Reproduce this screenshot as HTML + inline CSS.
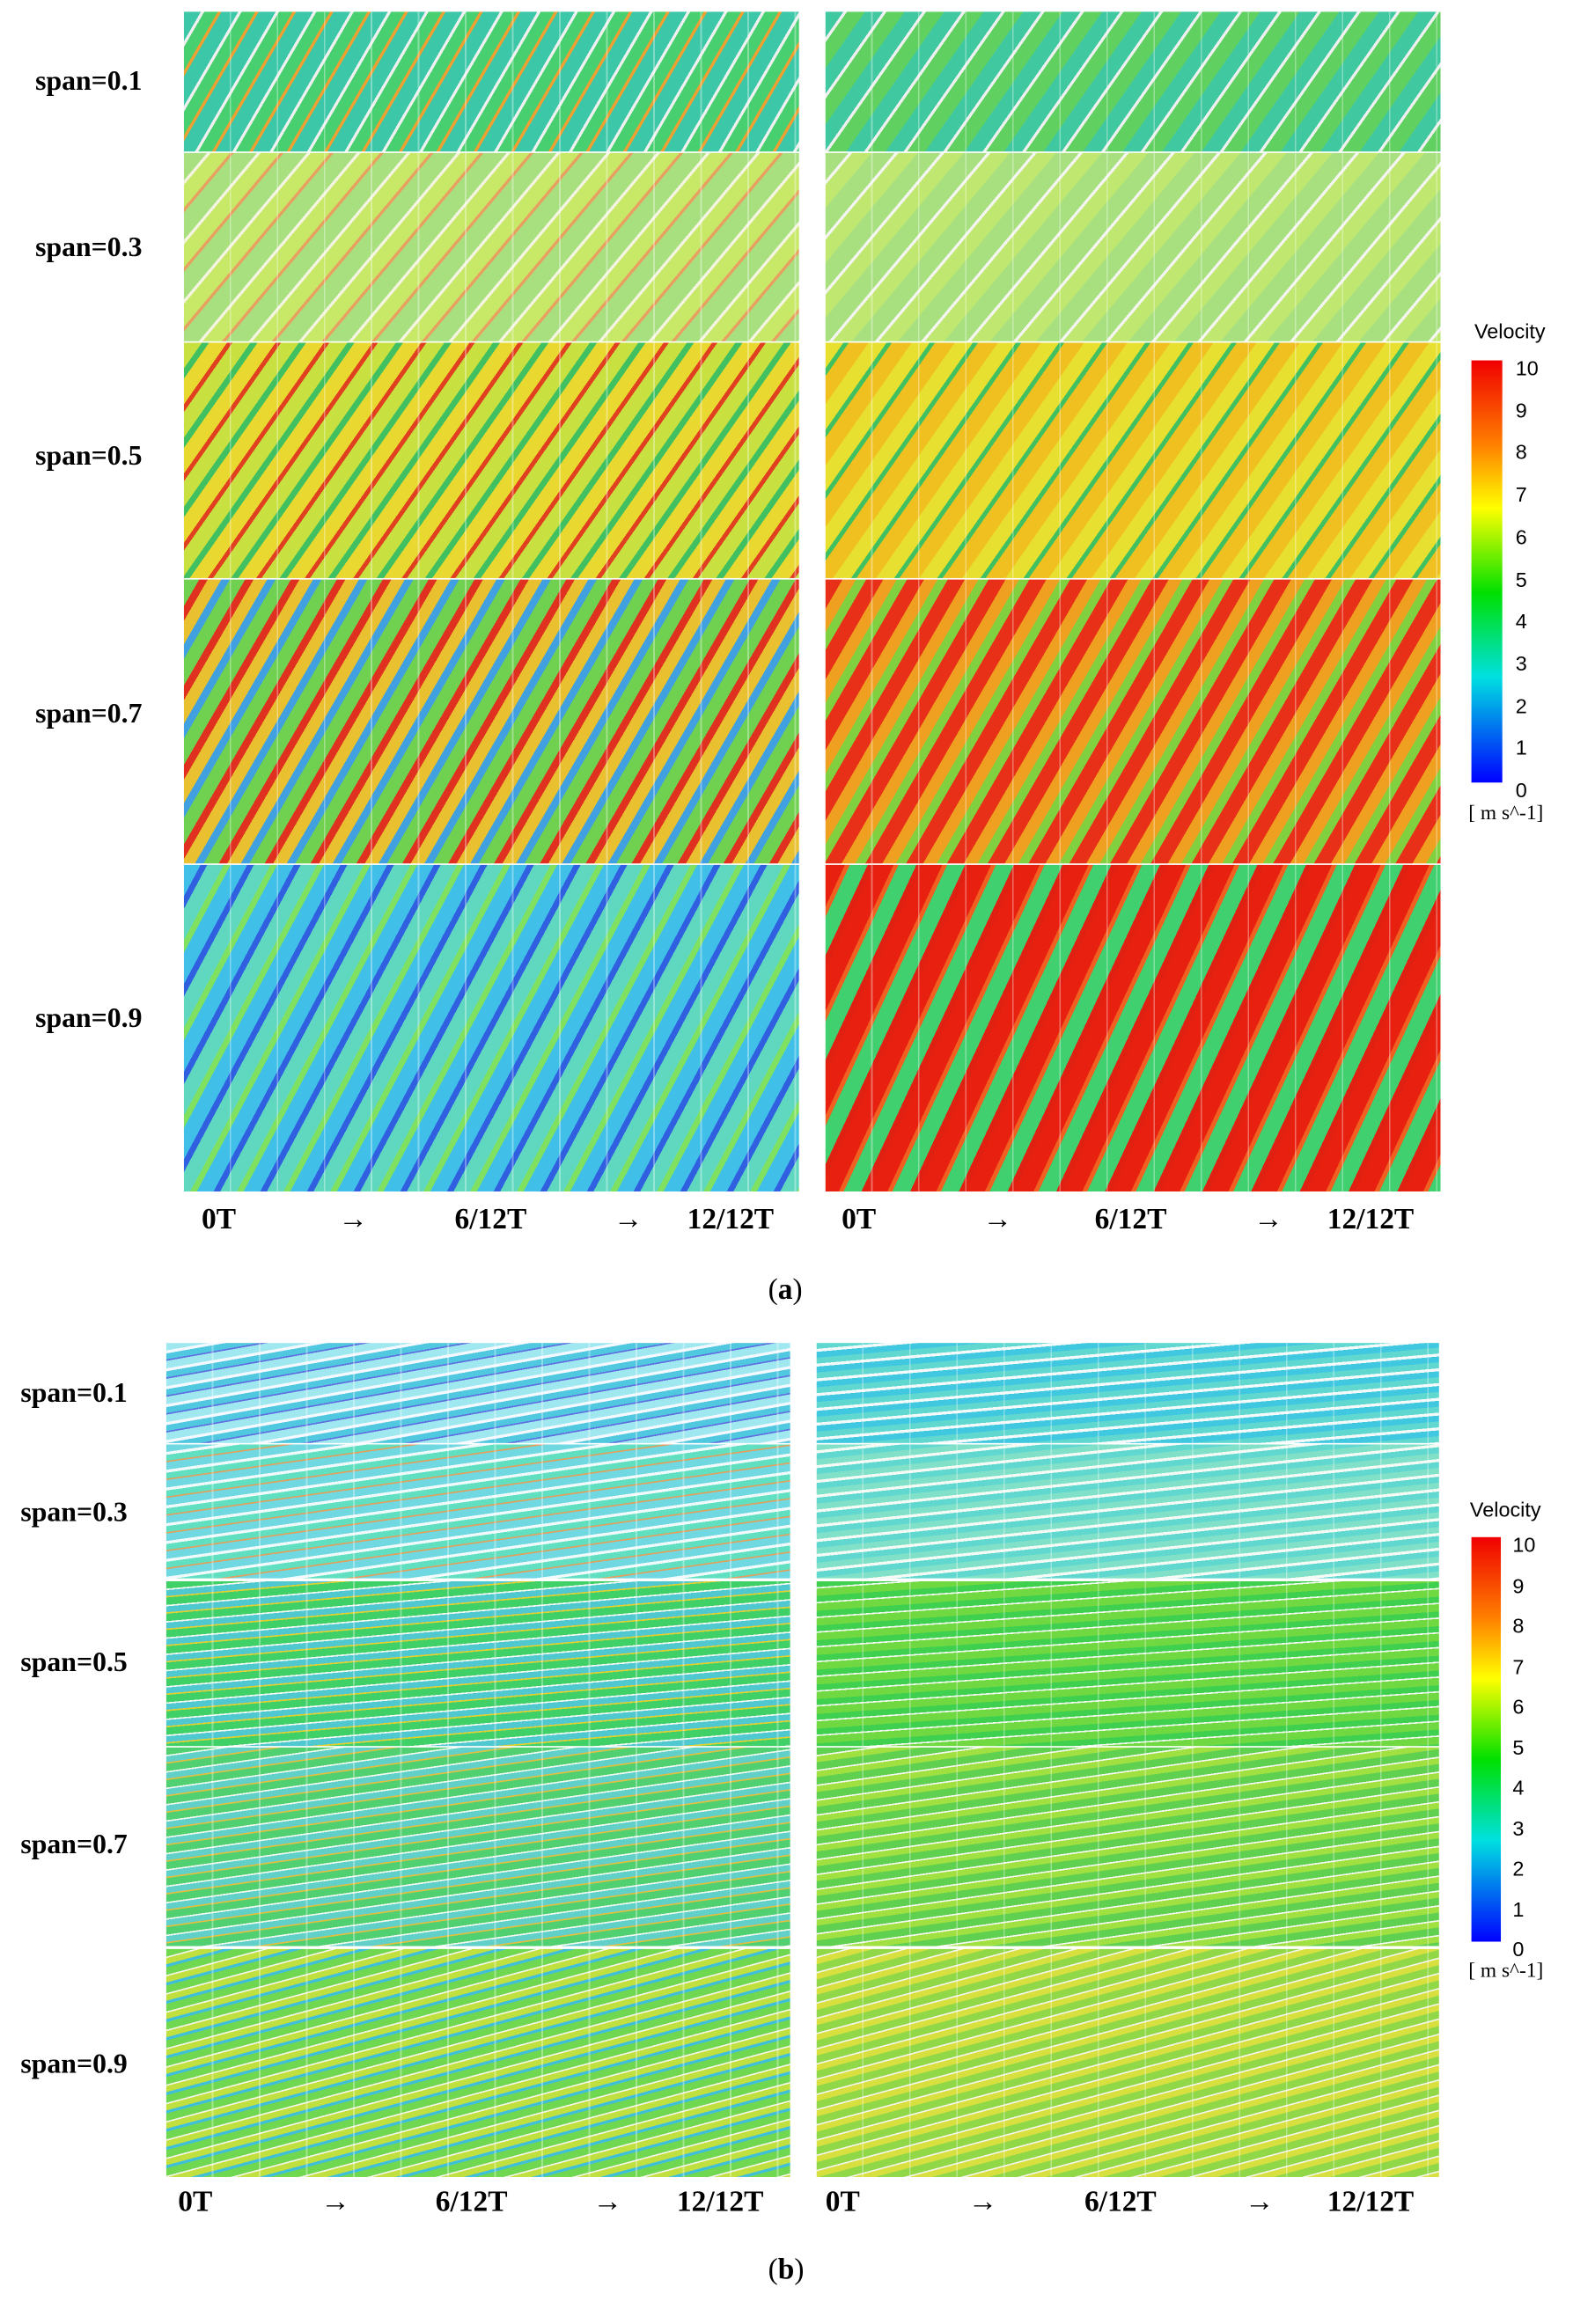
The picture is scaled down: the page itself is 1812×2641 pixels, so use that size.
<!DOCTYPE html>
<html><head><meta charset="utf-8"><style>
html,body{margin:0;padding:0;background:#fff;width:1812px;height:2640px;overflow:hidden}
#w{position:absolute;left:0;top:0;width:1084px;height:1580px;transform:scale(1.6716);transform-origin:0 0;font-family:"Liberation Serif",serif}
.p{position:absolute;overflow:hidden}
.p::after{content:"";position:absolute;inset:0;background:repeating-linear-gradient(90deg,transparent 0,transparent 31px,rgba(255,255,255,.35) 31px,rgba(255,255,255,.35) 32px)}
.lb{position:absolute;font-weight:bold;font-size:19px;white-space:nowrap}
.t{position:absolute;font-weight:bold;font-size:20px;white-space:nowrap}
.cb{position:absolute;font-family:"Liberation Sans",sans-serif;font-size:14px}
</style></head><body><div id="w">
<!-- panel a left -->
<div class="p" style="left:125px;top:8px;width:418px;height:95px;background:repeating-linear-gradient(120deg,#3cc8a8 0 10px,#f0f0f0 10px 12px,#48d070 12px 20px,#f0a030 20px 22px)"></div>
<div class="p" style="left:125px;top:104px;width:418px;height:128px;background:repeating-linear-gradient(130deg,#a8e080 0 12px,#f4f4e0 12px 14px,#c8e868 14px 24px,#e8a060 24px 26px)"></div>
<div class="p" style="left:125px;top:233px;width:418px;height:160px;background:repeating-linear-gradient(125deg,#c8e040 0 10px,#40c060 10px 14px,#e8d830 14px 24px,#e04020 24px 27px)"></div>
<div class="p" style="left:125px;top:394px;width:418px;height:193px;background:repeating-linear-gradient(120deg,#70d050 0 9px,#e03020 9px 14px,#e8c030 14px 22px,#40a0e0 22px 27px)"></div>
<div class="p" style="left:125px;top:588px;width:418px;height:222px;background:repeating-linear-gradient(118deg,#40c0e8 0 10px,#3060e0 10px 14px,#60d8c0 14px 24px,#80e060 24px 28px)"></div>
<!-- panel a right -->
<div class="p" style="left:561px;top:8px;width:418px;height:95px;background:repeating-linear-gradient(125deg,#40c8a0 0 10px,#f0f0f0 10px 12px,#60d060 12px 22px)"></div>
<div class="p" style="left:561px;top:104px;width:418px;height:128px;background:repeating-linear-gradient(130deg,#a8e080 0 12px,#f4f4f0 12px 14px,#c0e870 14px 24px)"></div>
<div class="p" style="left:561px;top:233px;width:418px;height:160px;background:repeating-linear-gradient(125deg,#e8e030 0 10px,#40c060 10px 13px,#f0c020 13px 24px)"></div>
<div class="p" style="left:561px;top:394px;width:418px;height:193px;background:repeating-linear-gradient(120deg,#e83018 0 10px,#f0a020 10px 18px,#80d040 18px 24px)"></div>
<div class="p" style="left:561px;top:588px;width:418px;height:222px;background:repeating-linear-gradient(115deg,#e82010 0 12px,#f06020 12px 15px,#40d070 15px 26px,#e02010 26px 30px)"></div>
<div class="lb" style="left:24px;top:45px">span=0.1</div>
<div class="lb" style="left:24px;top:158px">span=0.3</div>
<div class="lb" style="left:24px;top:300px">span=0.5</div>
<div class="lb" style="left:24px;top:475px">span=0.7</div>
<div class="lb" style="left:24px;top:682px">span=0.9</div>
<div class="t" style="left:137px;top:818px">0T</div><div class="t" style="left:230px;top:818px">→</div><div class="t" style="left:309px;top:818px">6/12T</div><div class="t" style="left:417px;top:818px">→</div><div class="t" style="left:467px;top:818px">12/12T</div>
<div class="t" style="left:572px;top:818px">0T</div><div class="t" style="left:668px;top:818px">→</div><div class="t" style="left:744px;top:818px">6/12T</div><div class="t" style="left:852px;top:818px">→</div><div class="t" style="left:902px;top:818px">12/12T</div>
<div class="cb" style="left:1002px;top:217px">Velocity</div>
<div style="position:absolute;left:1000px;top:245px;width:21px;height:287px;background:linear-gradient(180deg,#f00000,#ff8000 20%,#ffff00 35%,#00e000 55%,#00e0e0 75%,#0000ff)"></div>
<div class="cb" style="left:1030px;top:236px;line-height:28.7px">10<br>9<br>8<br>7<br>6<br>5<br>4<br>3<br>2<br>1<br>0</div>
<div class="cb" style="left:998px;top:546px;font-family:'Liberation Serif',serif">[ m s^-1]</div>
<div class="t" style="left:522px;top:866px;font-weight:normal">(<b>a</b>)</div>
<!-- panel b left -->
<div class="p" style="left:113px;top:913px;width:424px;height:68px;background:repeating-linear-gradient(170deg,#a0e8f0 0 5px,#f4f8ff 5px 7px,#50c8e0 7px 11px,#6070e0 11px 12px)"></div>
<div class="p" style="left:113px;top:982px;width:424px;height:91px;background:repeating-linear-gradient(172deg,#70d8e0 0 5px,#f0fafa 5px 7px,#60e0c0 7px 11px,#e0a060 11px 12px)"></div>
<div class="p" style="left:113px;top:1075px;width:424px;height:112px;background:repeating-linear-gradient(175deg,#40d068 0 5px,#f4f8f4 5px 6px,#50c8d0 6px 10px,#e0d030 10px 11px)"></div>
<div class="p" style="left:113px;top:1188px;width:424px;height:135px;background:repeating-linear-gradient(172deg,#50d070 0 5px,#f0f8f0 5px 6px,#60d0c8 6px 10px,#e0c040 10px 11px)"></div>
<div class="p" style="left:113px;top:1325px;width:424px;height:155px;background:repeating-linear-gradient(165deg,#70d850 0 5px,#f4f4e8 5px 6px,#c0e040 6px 10px,#40c0d8 10px 12px)"></div>
<!-- panel b right -->
<div class="p" style="left:555px;top:913px;width:423px;height:68px;background:repeating-linear-gradient(175deg,#60d8d0 0 4px,#f4fafa 4px 6px,#40c8e0 6px 10px)"></div>
<div class="p" style="left:555px;top:982px;width:423px;height:91px;background:repeating-linear-gradient(174deg,#80e0c8 0 4px,#f4faf4 4px 6px,#60d8d0 6px 10px)"></div>
<div class="p" style="left:555px;top:1075px;width:423px;height:112px;background:repeating-linear-gradient(176deg,#40d050 0 4px,#f0f8f0 4px 5px,#70d840 5px 10px)"></div>
<div class="p" style="left:555px;top:1188px;width:423px;height:135px;background:repeating-linear-gradient(172deg,#60d050 0 5px,#f4f8f0 5px 6px,#a0e040 6px 10px)"></div>
<div class="p" style="left:555px;top:1325px;width:423px;height:155px;background:repeating-linear-gradient(165deg,#90d848 0 5px,#f4f4e8 5px 6px,#d8e040 6px 10px)"></div>
<div class="lb" style="left:14px;top:937px">span=0.1</div>
<div class="lb" style="left:14px;top:1018px">span=0.3</div>
<div class="lb" style="left:14px;top:1120px">span=0.5</div>
<div class="lb" style="left:14px;top:1244px">span=0.7</div>
<div class="lb" style="left:14px;top:1393px">span=0.9</div>
<div class="t" style="left:121px;top:1486px">0T</div><div class="t" style="left:218px;top:1486px">→</div><div class="t" style="left:296px;top:1486px">6/12T</div><div class="t" style="left:403px;top:1486px">→</div><div class="t" style="left:460px;top:1486px">12/12T</div>
<div class="t" style="left:561px;top:1486px">0T</div><div class="t" style="left:658px;top:1486px">→</div><div class="t" style="left:737px;top:1486px">6/12T</div><div class="t" style="left:846px;top:1486px">→</div><div class="t" style="left:902px;top:1486px">12/12T</div>
<div class="cb" style="left:999px;top:1018px">Velocity</div>
<div style="position:absolute;left:1000px;top:1045px;width:20px;height:275px;background:linear-gradient(180deg,#f00000,#ff8000 20%,#ffff00 35%,#00e000 55%,#00e0e0 75%,#0000ff)"></div>
<div class="cb" style="left:1028px;top:1037px;line-height:27.5px">10<br>9<br>8<br>7<br>6<br>5<br>4<br>3<br>2<br>1<br>0</div>
<div class="cb" style="left:998px;top:1333px;font-family:'Liberation Serif',serif">[ m s^-1]</div>
<div class="t" style="left:522px;top:1532px;font-weight:normal">(<b>b</b>)</div>
</div></body></html>
